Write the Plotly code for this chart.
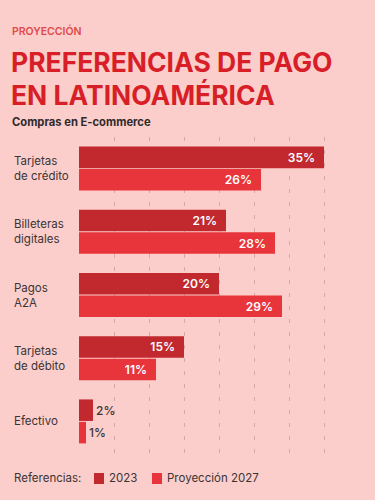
import plotly.graph_objects as go

categories = ["Tarjetas<br>de crédito", "Billeteras<br>digitales", "Pagos<br>A2A", "Tarjetas<br>de débito", "Efectivo"]
series_2023 = [35, 21, 20, 15, 2]
series_2027 = [26, 28, 29, 11, 1]
series_names = ["2023", "Proyección 2027"]
legend_title = "Referencias:"
x_ticks = [0, 5, 10, 15, 20, 25, 30, 35, 40]

W, H = 375, 500
L, R, T, B = 79, 16, 137, 47
PW, PH = W - L - R, H - T - B

def px_x(px):
    return (px - L) / PW

def px_y(py):
    return (H - B - py) / PH

BG = "#FCCECB"
C1 = "#C1292E"
C2 = "#E8353B"
TXT = "#3A3434"
FONT = "Inter"
colors = [C1, C2]

fig = go.Figure()
for name, vals, col in [(series_names[0], series_2023, C1), (series_names[1], series_2027, C2)]:
    fig.add_trace(go.Bar(
        y=categories, x=vals, name=name, orientation="h",
        marker=dict(color=col, line=dict(width=0)),
        texttemplate="%{x}%\u2002", textposition="auto",
        insidetextanchor="end",
        insidetextfont=dict(color="white", size=12, family=FONT, weight=600),
        outsidetextfont=dict(color=TXT, size=12, family=FONT, weight=500),
        cliponaxis=False, showlegend=False,
    ))

annotations = []
for c in categories:
    annotations.append(dict(
        x=px_x(12), xref="paper", y=c, yref="y", text=c, showarrow=False,
        xanchor="left", yanchor="middle", align="left",
        font=dict(size=11.5, color=TXT, family=FONT),
    ))

annotations += [
    dict(x=px_x(10), y=px_y(31), xref="paper", yref="paper", text="PROYECCIÓN",
         showarrow=False, xanchor="left", yanchor="middle",
         font=dict(size=10.5, color="#DE4A4A", family=FONT, weight=600)),
    dict(x=px_x(9), y=px_y(62), xref="paper", yref="paper", text="PREFERENCIAS DE PAGO",
         showarrow=False, xanchor="left", yanchor="middle",
         font=dict(size=26.5, color="#D81F28", family=FONT, weight=700)),
    dict(x=px_x(9), y=px_y(95), xref="paper", yref="paper", text="EN LATINOAMÉRICA",
         showarrow=False, xanchor="left", yanchor="middle",
         font=dict(size=26.5, color="#D81F28", family=FONT, weight=700)),
    dict(x=px_x(10), y=px_y(122), xref="paper", yref="paper", text="Compras en E-commerce",
         showarrow=False, xanchor="left", yanchor="middle",
         font=dict(size=11.2, color="#2E2A2A", family=FONT, weight=700)),
    dict(x=px_x(12), y=px_y(478), xref="paper", yref="paper", text=legend_title,
         showarrow=False, xanchor="left", yanchor="middle",
         font=dict(size=11.5, color=TXT, family=FONT)),
]

# legend entries (squares + labels)
shapes = []
legend_sq_x = [94, 152]
for name, col, sx in zip(series_names, colors, legend_sq_x):
    shapes.append(dict(type="rect", xref="paper", yref="paper",
                       x0=px_x(sx), x1=px_x(sx + 10), y0=px_y(484), y1=px_y(473),
                       fillcolor=col, line=dict(width=0)))
    annotations.append(dict(x=px_x(sx + 13), y=px_y(478), xref="paper", yref="paper",
                            text=name, showarrow=False, xanchor="left", yanchor="middle",
                            font=dict(size=11.5, color=TXT, family=FONT)))

fig.update_layout(
    width=W, height=H,
    margin=dict(l=L, r=R, t=T, b=B),
    paper_bgcolor=BG, plot_bgcolor=BG,
    barmode="group", bargap=0.29, bargroupgap=0.04,
    showlegend=False,
    xaxis=dict(range=[0, 40], tickvals=x_ticks, showticklabels=False,
               showgrid=True, gridcolor="rgba(170,120,120,0.45)", gridwidth=1,
               griddash="4px,9px", zeroline=False, showline=False, fixedrange=True),
    yaxis=dict(autorange="reversed", showticklabels=False, showgrid=False,
               zeroline=False, showline=False, fixedrange=True),
    annotations=annotations,
    shapes=shapes,
    uniformtext=dict(minsize=8),
)

fig.write_html(
    "out.html",
    config={"displayModeBar": False},
    post_script="document.body.style.margin='0';document.body.style.background='#FCCECB';",
)
